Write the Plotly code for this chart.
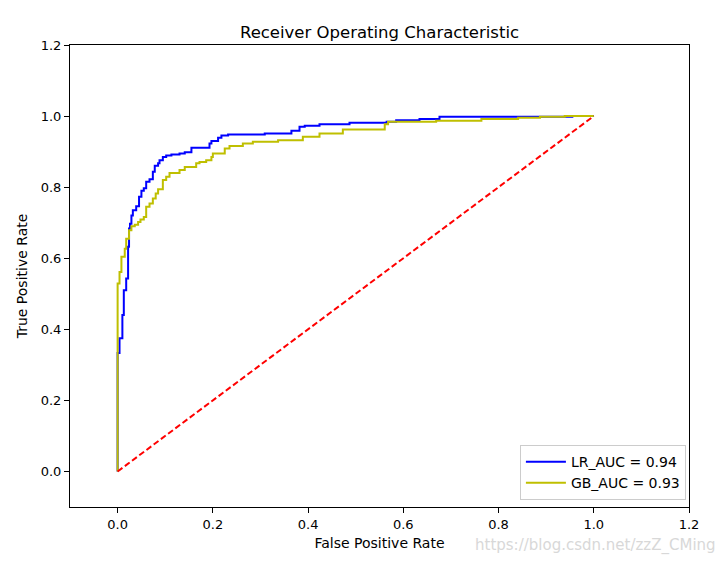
import plotly.graph_objects as go

# LR curve (step corners)
lr_fpr = [0, 0, 0.004, 0.010, 0.013, 0.018, 0.022, 0.024, 0.026, 0.029, 0.032, 0.039, 0.045,
          0.050, 0.055, 0.060, 0.067, 0.074, 0.078, 0.085, 0.088, 0.095, 0.102, 0.113, 0.130,
          0.141, 0.155, 0.193, 0.197, 0.211, 0.218, 0.232, 0.309, 0.365, 0.382, 0.393, 0.424,
          0.487, 0.565, 0.585, 0.634, 0.676, 0.955, 1.0]
lr_tpr = [0, 0.333, 0.375, 0.44, 0.51, 0.543, 0.632, 0.684, 0.697, 0.72, 0.735, 0.746, 0.773,
          0.79, 0.797, 0.815, 0.822, 0.843, 0.86, 0.867, 0.876, 0.885, 0.889, 0.892, 0.895,
          0.898, 0.911, 0.923, 0.93, 0.939, 0.945, 0.948, 0.951, 0.959, 0.97, 0.973, 0.977,
          0.981, 0.984, 0.988, 0.992, 0.998, 1.0, 1.0]

# GB curve (step corners)
gb_fpr = [0, 0, 0.004, 0.008, 0.015, 0.018, 0.024, 0.029, 0.036, 0.043, 0.048, 0.055, 0.060,
          0.067, 0.074, 0.080, 0.085, 0.095, 0.102, 0.109, 0.130, 0.141, 0.165, 0.172, 0.186,
          0.197, 0.200, 0.225, 0.235, 0.263, 0.284, 0.337, 0.389, 0.424, 0.473, 0.561, 0.568,
          0.669, 0.764, 0.841, 0.887, 0.939, 1.0]
gb_tpr = [0, 0.529, 0.561, 0.604, 0.627, 0.655, 0.679, 0.690, 0.694, 0.702, 0.709, 0.716, 0.745,
          0.754, 0.768, 0.782, 0.794, 0.820, 0.829, 0.840, 0.848, 0.857, 0.867, 0.871, 0.876,
          0.885, 0.895, 0.909, 0.916, 0.923, 0.928, 0.932, 0.942, 0.951, 0.962, 0.977, 0.984,
          0.987, 0.992, 0.995, 0.998, 1.0, 1.0]

diag = [0, 1]
ticks = [0.0, 0.2, 0.4, 0.6, 0.8, 1.0, 1.2]

FONT = "DejaVu Sans"

fig = go.Figure()
fig.add_trace(go.Scatter(x=lr_fpr, y=lr_tpr, mode="lines", line=dict(color="blue", width=2, shape="hv"),
                         name="LR_AUC = 0.94"))
fig.add_trace(go.Scatter(x=gb_fpr, y=gb_tpr, mode="lines", line=dict(color="#bfbf00", width=2, shape="hv"),
                         name="GB_AUC = 0.93"))
fig.add_trace(go.Scatter(x=diag, y=diag, mode="lines", line=dict(color="red", width=2, dash="6px,3px"),
                         showlegend=False))

axis_common = dict(showline=True, linecolor="black", linewidth=1, mirror=True, ticks="outside",
                   ticklen=5, tickcolor="black", tickwidth=1, showgrid=False, zeroline=False,
                   tickvals=ticks, tickformat=".1f", tickfont=dict(family=FONT, size=13, color="black"))

fig.update_layout(
    width=726, height=563,
    margin=dict(l=70, r=37, t=45, b=56),
    paper_bgcolor="white", plot_bgcolor="white",
    font=dict(family=FONT, color="black"),
    title=dict(text="Receiver Operating Characteristic", x=0.5, xref="paper", xanchor="center",
               y=1 - 32 / 563, yanchor="middle", font=dict(family=FONT, size=16.5, color="black")),
    xaxis=dict(range=[-0.1, 1.2], title=dict(text="False Positive Rate", font=dict(family=FONT, size=14), standoff=7),
               **axis_common),
    yaxis=dict(range=[-0.1, 1.2], title=dict(text="True Positive Rate", font=dict(family=FONT, size=14), standoff=9),
               **axis_common),
    legend=dict(x=0.995, y=0.015, xanchor="right", yanchor="bottom", bordercolor="#cccccc", borderwidth=1,
                bgcolor="white", font=dict(family=FONT, size=14, color="black"), itemwidth=40),
    showlegend=True,
)

fig.add_annotation(text="https://blog.csdn.net/zzZ_CMing", xref="paper", yref="paper",
                   x=(718 - 70) / 619, y=-(545 - 507) / 462, xanchor="right", yanchor="middle",
                   showarrow=False, font=dict(family=FONT, size=15, color="#d8d8d8"))

fig.write_html("out.html")
